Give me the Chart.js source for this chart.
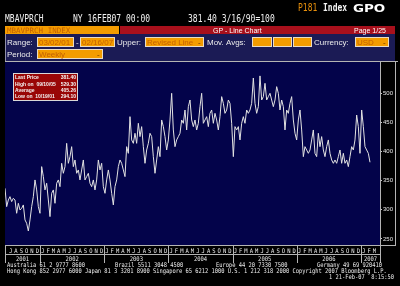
<!DOCTYPE html>
<html>
<head>
<meta charset="utf-8">
<script src="https://cdn.jsdelivr.net/npm/chart.js@4.4.1/dist/chart.umd.min.js"></script>
<style>
  html, body { margin: 0; padding: 0; background: #000; width: 400px; height: 286px; overflow: hidden; }
  canvas { display: block; }
</style>
</head>
<body>
<canvas id="gp" width="400" height="286"></canvas>
<script>
// MBA purchase index, weekly readings (first ~mid Jun 2001, last 16 Feb 2007)
const values = [
  336.8, 305.4, 316.8, 322.5, 314.0, 319.7, 316.8, 294.0, 311.1, 299.7,
  302.5, 308.3, 282.6, 276.9, 263.7, 282.6, 305.4, 322.5, 351.1, 334.0,
  305.4, 294.0, 373.9, 356.8, 334.0, 345.4, 316.8, 288.3, 328.2, 334.0,
  311.1, 345.4, 351.1, 339.6, 379.6, 362.5, 373.9, 413.8, 379.6, 391.0,
  408.1, 373.9, 385.3, 362.5, 368.2, 351.1, 368.2, 385.3, 351.1, 356.8,
  362.5, 345.4, 339.6, 351.1, 334.0, 351.1, 385.3, 368.2, 379.6, 339.6,
  328.2, 351.1, 368.2, 351.1, 328.2, 308.3, 339.6, 351.1, 373.9, 385.3,
  379.6, 368.2, 356.8, 408.1, 396.7, 459.5, 419.6, 413.8, 431.0, 413.8,
  448.1, 425.3, 442.4, 408.1, 379.6, 402.4, 413.8, 431.0, 425.3, 391.0,
  362.5, 385.3, 408.1, 391.0, 453.8, 442.4, 425.3, 402.4, 419.6, 453.8,
  499.5, 436.7, 408.1, 419.6, 425.3, 431.0,
  453.8, 448.1, 470.9, 436.7, 476.6, 488.0, 453.8, 442.4, 453.8, 436.7,
  448.1, 476.6, 499.5, 448.1, 453.8, 459.5, 442.4, 465.2, 470.9, 448.1,
  465.2, 453.8, 436.7, 459.5, 493.8, 482.3, 465.2, 470.9, 488.0, 482.3,
  448.1, 391.0, 442.4, 436.7, 442.4, 419.6, 448.1, 459.5, 448.1, 470.9,
  465.2, 470.9, 482.3, 525.7, 482.3, 465.2, 476.6, 529.3, 488.0, 493.8,
  516.6, 488.0, 493.8, 499.5, 488.0, 476.6, 488.0, 510.9, 499.5, 470.9,
  488.0, 476.6, 436.7, 470.9, 465.2, 482.3, 493.8, 453.8, 431.0, 419.6,
  453.8, 470.9, 436.7, 391.0, 408.1, 402.4, 396.7, 402.4, 419.6, 436.7,
  396.7, 391.0, 431.0, 408.1, 425.3, 402.4, 391.0, 408.1, 419.6, 396.7,
  385.3, 379.6, 385.3, 379.6, 391.0, 402.4, 379.6, 396.7, 379.6, 385.3,
  373.9, 391.0, 408.1, 402.4, 419.6,
  462.3, 442.3, 396.7, 470.9, 442.3, 408.1, 402.4, 396.7, 381.4
];
// x is counted in months from Jan 2001
const firstMonth = 5.45;
const lastMonth = 73.68;
const xMin = 5.45, xMax = 75.55;
const yMin = 239.7, yMax = 553.1;
const yTicks = [250, 300, 350, 400, 450, 500];
const monthLetters = ['J', 'F', 'M', 'A', 'M', 'J', 'J', 'A', 'S', 'O', 'N', 'D'];
const years = [2001, 2002, 2003, 2004, 2005, 2006, 2007];
const statLabels = ['Last Price', 'High on  09/10/05', 'Average', 'Low on  10/19/01'];
const statValues = ['381.40', '529.30', '405.26', '294.10'];

const MONO = '"DejaVu Sans Mono", monospace';
const SANS = '"Liberation Sans", Arial, sans-serif';

const step = (lastMonth - firstMonth) / (values.length - 1);
const points = values.map((v, i) => ({ x: firstMonth + i * step, y: v }));

function put(c, s, x, y, font, color, align, sx, sy) {
  c.save();
  c.font = font;
  c.fillStyle = color;
  c.textAlign = align || 'left';
  c.textBaseline = 'alphabetic';
  c.translate(x, y);
  c.scale(sx || 1, sy || 1);
  c.fillText(s, 0, 0);
  c.restore();
}

function field(c, x, y, w, h, s, arrow) {
  c.fillStyle = '#f39c00';
  c.fillRect(x, y, w, h);
  c.strokeStyle = '#eadcc4';
  c.lineWidth = 1;
  c.strokeRect(x + 0.5, y + 0.5, w - 1, h - 1);
  if (s) put(c, s, x + 2, y + h - 2, '8px ' + SANS, '#c46000');
  if (arrow) put(c, '-', x + w - 6, y + h - 2, '8px ' + SANS, '#6a3400');
}

function hline(c, x1, x2, y, col) {
  c.strokeStyle = col; c.lineWidth = 1;
  c.beginPath(); c.moveTo(x1, y + 0.5); c.lineTo(x2, y + 0.5); c.stroke();
}
function vline(c, x, y1, y2, col) {
  c.strokeStyle = col; c.lineWidth = 1;
  c.beginPath(); c.moveTo(x + 0.5, y1); c.lineTo(x + 0.5, y2); c.stroke();
}

const terminal = {
  id: 'terminal',
  beforeDraw(chart) {
    const c = chart.ctx, a = chart.chartArea;
    c.save();
    c.fillStyle = '#1b1b55';
    c.fillRect(5, 34, 390, 27);
    c.fillStyle = '#03034a';
    c.fillRect(a.left, a.top, a.right - a.left, a.bottom - a.top);
    c.restore();
  },
  afterDraw(chart) {
    const c = chart.ctx, a = chart.chartArea, xs = chart.scales.x;
    c.save();

    // top line
    put(c, 'MBAVPRCH', 5, 22, '8px ' + MONO, '#f0f0f0', 'left', 1, 1.2);
    put(c, 'NY 16FEB07 00:00', 73, 22, '8px ' + MONO, '#f0f0f0', 'left', 1, 1.2);
    put(c, '381.40 3/16/90=100', 188, 22, '8px ' + MONO, '#f0f0f0', 'left', 1, 1.2);
    put(c, 'P181', 298, 11, '8px ' + MONO, '#e8900c', 'left', 1, 1.2);
    put(c, 'Index', 323, 11, 'bold 8px ' + MONO, '#f4f4f4', 'left', 1, 1.2);
    put(c, 'GPO', 353, 12, 'bold 11px "DejaVu Sans"', '#ffffff', 'left', 1.22, 1);

    // title bars
    c.fillStyle = '#f39c00';
    c.fillRect(5, 26, 114, 8);
    put(c, 'MBAVPRCH INDEX', 7, 33, '7.5px ' + MONO, '#c46000');
    c.fillStyle = '#a8101c';
    c.fillRect(120, 26, 275, 8);
    put(c, 'GP - Line Chart', 213, 33, '7px ' + SANS, '#ffffff');
    put(c, 'Page 1/25', 354, 33, '7px ' + SANS, '#ffffff');

    // settings panel
    put(c, 'Range:', 7, 45, '8px ' + SANS, '#ececec');
    field(c, 37, 37, 37, 10, '03/02/01');
    put(c, '-', 76, 45, '8px ' + SANS, '#ececec');
    field(c, 80, 37, 35, 10, '02/16/07');
    put(c, 'Upper:', 117, 45, '8px ' + SANS, '#ececec');
    field(c, 145, 37, 59, 10, 'Revised Line', true);
    put(c, 'Mov. Avgs:', 207, 45, '8px ' + SANS, '#ececec');
    field(c, 252, 37, 20, 10);
    field(c, 273, 37, 19, 10);
    field(c, 293, 37, 19, 10);
    put(c, 'Currency:', 314, 45, '8px ' + SANS, '#ececec');
    field(c, 355, 37, 34, 10, 'USD', true);
    put(c, 'Period:', 7, 57, '8px ' + SANS, '#ececec');
    field(c, 37, 49, 66, 10, 'Weekly', true);
    vline(c, 5, 34, 61, '#9090a8');

    // stats box
    c.fillStyle = '#990606';
    c.fillRect(13, 73, 65, 28);
    c.strokeStyle = '#d8d8d8';
    c.strokeRect(13.5, 73.5, 64, 27);
    const rowY = [79, 85.5, 91.5, 97.5];
    statLabels.forEach((s, i) => {
      put(c, s, 15, rowY[i], 'bold 5px ' + SANS, '#f4f4f4');
      put(c, statValues[i], 76, rowY[i], 'bold 5px ' + SANS, '#f4f4f4', 'right');
    });

    // frame
    const grey = '#b4b4b4';
    hline(c, 5, 398, 61, grey);
    vline(c, a.right, 61, 263, grey);
    vline(c, 395, 61, 246, grey);
    hline(c, 5, 396, a.bottom, grey);
    hline(c, 5, a.right, 254, grey);
    vline(c, 5, a.bottom, 263, grey);

    // month and year rows under the plot
    for (let m = Math.floor(xMin); m < xMax; m++) {
      const px = xs.getPixelForValue(m + 0.5);
      if (px > a.left + 1 && px < a.right - 1) {
        put(c, monthLetters[m % 12], px, 253, '5.5px ' + MONO, '#ececec', 'center', 1, 1.15);
      }
    }
    years.forEach((yr, i) => {
      const s = Math.max(xs.getPixelForValue(i * 12), a.left);
      const e = Math.min(xs.getPixelForValue(i * 12 + 12), a.right);
      if (i > 0 && s > a.left) vline(c, Math.round(s), a.bottom, 263, grey);
      put(c, String(yr), (s + e) / 2, 261, '5.5px ' + MONO, '#ececec', 'center', 1, 1.15);
    });

    // footer
    const f = '5.4px ' + MONO, fc = '#ececec';
    put(c, 'Australia 61 2 9777 8600', 7, 267, f, fc, 'left', 1, 1.2);
    put(c, 'Brazil 5511 3048 4500', 115, 267, f, fc, 'left', 1, 1.2);
    put(c, 'Europe 44 20 7330 7500', 216, 267, f, fc, 'left', 1, 1.2);
    put(c, 'Germany 49 69 920410', 317, 267, f, fc, 'left', 1, 1.2);
    put(c, 'Hong Kong 852 2977 6000 Japan 81 3 3201 8900 Singapore 65 6212 1000 U.S. 1 212 318 2000 Copyright 2007 Bloomberg L.P.', 7, 273, f, fc, 'left', 1, 1.2);
    put(c, '1 21-Feb-07  8:15:50', 394, 279, f, fc, 'right', 1, 1.2);

    c.restore();
  }
};

new Chart(document.getElementById('gp').getContext('2d'), {
  type: 'line',
  data: {
    datasets: [{
      data: points,
      borderColor: '#e2e2e2',
      borderWidth: 1,
      pointRadius: 0,
      tension: 0,
      fill: false
    }]
  },
  options: {
    responsive: false,
    animation: false,
    devicePixelRatio: 1,
    layout: { padding: { left: 5, right: 5, top: 62, bottom: 41 } },
    plugins: { legend: { display: false }, tooltip: { enabled: false } },
    scales: {
      x: { type: 'linear', min: xMin, max: xMax, display: false },
      y: {
        position: 'right',
        min: yMin,
        max: yMax,
        afterFit: s => { s.width = 15; },
        afterBuildTicks: s => { s.ticks = yTicks.map(v => ({ value: v })); },
        grid: { drawOnChartArea: false, drawTicks: true, tickLength: 2, color: '#c8c8c8' },
        border: { display: false },
        ticks: { color: '#e6e6e6', font: { family: 'Liberation Sans', size: 6 }, padding: 1, autoSkip: false }
      }
    }
  },
  plugins: [terminal]
});
</script>
</body>
</html>
